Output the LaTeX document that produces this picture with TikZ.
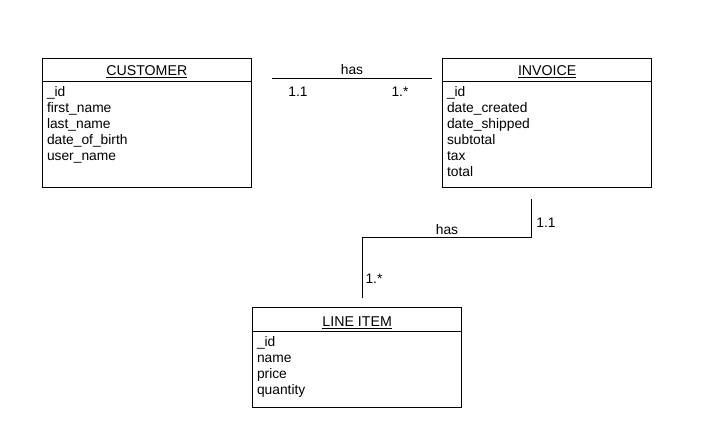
\documentclass[tikz,border=0pt]{standalone}
\usepackage{fontspec}
\setmainfont{Liberation Sans}
\usetikzlibrary{calc}
\tikzset{
  entity/.style={draw=black, line width=1pt, rectangle, minimum width=209pt, inner sep=0pt, outer sep=0pt},
  divider/.style={draw=black, line width=1pt},
  txt/.style={inner sep=0pt, outer sep=0pt, font=\fontsize{13.8}{16}\selectfont, text=black},
  title/.style={txt, anchor=base, font=\fontsize{14.2}{16}\selectfont},
  attr/.style={txt, anchor=base west},
  conn/.style={draw=black, line width=1pt},
  lbl/.style={txt, anchor=base}
}
\begin{document}
\begin{tikzpicture}[x=1pt, y=-1pt]
\useasboundingbox[fill=white] (0,0) rectangle (722,437);
% CUSTOMER
\node[entity, minimum height=129pt] (cust) at (146.8,122.6) {};
\node[title] (custT) at (146.8,75.5) {\underline{CUSTOMER}};
\draw[divider] ($(cust.north west)+(0,23.6)$) -- ($(cust.north east)+(0,23.6)$);
\foreach \t [count=\i] in {\_id, first\_name, last\_name, date\_of\_birth, user\_name}
  \node[attr] (cust-\i) at (47,80.8+16*\i) {\t};
% INVOICE
\node[entity, minimum height=129pt] (inv) at (547.2,122.6) {};
\node[title] (invT) at (547.2,75.5) {\underline{INVOICE}};
\draw[divider] ($(inv.north west)+(0,23.6)$) -- ($(inv.north east)+(0,23.6)$);
\foreach \t [count=\i] in {\_id, date\_created, date\_shipped, subtotal, tax, total}
  \node[attr] (inv-\i) at (447,80.8+16*\i) {\t};
% LINE ITEM
\node[entity, minimum height=100pt] (li) at (357.2,357.7) {};
\node[title] (liT) at (357.2,326.8) {\underline{LINE ITEM}};
\draw[divider] ($(li.north west)+(0,24)$) -- ($(li.north east)+(0,24)$);
\foreach \t [count=\i] in {\_id, name, price, quantity}
  \node[attr] (li-\i) at (257,330.8+16*\i) {\t};
% connector customer - invoice
\coordinate (c1a) at (272,78);
\coordinate (c1b) at (432,78);
\draw[conn] (c1a) -- (c1b);
\node[lbl] (has1) at (352,74.5) {has};
\node[lbl] (m1a) at (298,96.5) {1.1};
\node[lbl] (m1b) at (400,96.5) {1.*};
% connector invoice - line item
\coordinate (c2a) at (531.7,199);
\coordinate (c2b) at (362.7,298);
\draw[conn] (c2a) |- (c2b |- 0,237.5) -- (c2b);
\node[lbl] (has2) at (447,234) {has};
\node[lbl] (m2a) at (546,227) {1.1};
\node[lbl] (m2b) at (374,283) {1.*};
\end{tikzpicture}
\end{document}
